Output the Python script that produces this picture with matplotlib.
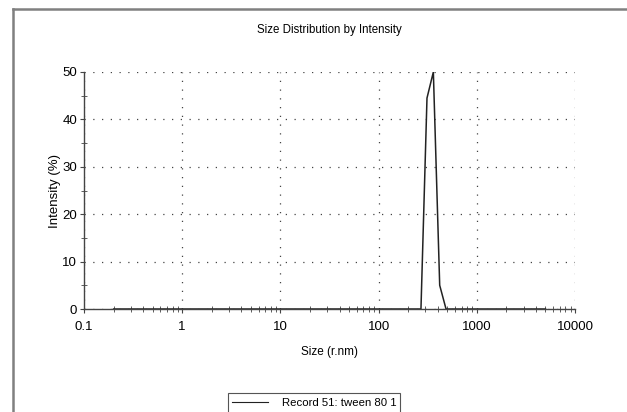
import numpy as np
import matplotlib.pyplot as plt
from matplotlib.lines import Line2D
from matplotlib.patches import Rectangle

plt.rcParams['font.family'] = ['Liberation Sans', 'DejaVu Sans']

# Size (r.nm) and intensity (%)
size = [0.2, 270, 311, 361, 419, 486, 5000]
intensity = [0, 0, 44.5, 50, 5, 0, 0]
xticks = [0.1, 1, 10, 100, 1000, 10000]
xtick_labels = ['0.1', '1', '10', '100', '1000', '10000']
yticks = [0, 10, 20, 30, 40, 50]
legend_text = 'Record 51: tween 80 1'

W, H = 627, 412
fig = plt.figure(figsize=(W / 100, H / 100), dpi=100)
ax = fig.add_axes([84 / W, 1 - 309 / H, (575 - 84) / W, (309 - 72) / H])

ax.plot(size, intensity, color='#222222', lw=1.1)
ax.set_xscale('log')
ax.set_xlim(0.1, 10000)
ax.set_ylim(0, 50)
ax.set_xticks(xticks)
ax.set_xticklabels(xtick_labels)
ax.set_yticks(yticks)
ax.set_yticks([5, 15, 25, 35, 45], minor=True)

for s in ['top', 'right']:
    ax.spines[s].set_visible(False)
for s in ['left', 'bottom']:
    ax.spines[s].set_color('#444444')
    ax.spines[s].set_linewidth(1.0)

ax.tick_params(which='major', direction='out', length=3, width=0.8,
               color='#444444', labelsize=9.5)
ax.tick_params(axis='x', which='major', pad=6)
ax.tick_params(axis='y', which='major', pad=2)
ax.tick_params(which='minor', direction='inout', length=4, width=0.6,
               color='#444444')
ax.xaxis.set_minor_formatter(plt.NullFormatter())

ax.grid(True, which='major', linestyle=(0, (1, 6)), color='#444444', lw=0.9)
ax.set_axisbelow(True)

ax.set_xlabel('Size (r.nm)', fontsize=8.5, labelpad=9)
ax.set_ylabel('Intensity (%)', fontsize=9.5, labelpad=1)
fig.text(329 / W, 1 - 30 / H, 'Size Distribution by Intensity',
         fontsize=8.3, ha='center', va='center')

# legend box at the bottom (runs off the picture)
fig.add_artist(Rectangle((228 / W, -0.05), (400 - 228) / W, 0.05 + (412 - 393) / H,
                         transform=fig.transFigure, fill=False,
                         edgecolor='#555555', lw=0.8))
fig.add_artist(Line2D([232 / W, 268 / W], [1 - 402 / H] * 2,
                      transform=fig.transFigure, color='#222222', lw=0.8))
fig.text(282 / W, 1 - 403 / H, legend_text, fontsize=8.2, va='center')

# outer gray frame
fig.add_artist(Line2D([13 / W, 1.01], [1 - 9 / H] * 2, transform=fig.transFigure,
                      color='#808080', lw=1.8))
fig.add_artist(Line2D([13 / W] * 2, [-0.01, 1 - 9 / H], transform=fig.transFigure,
                      color='#808080', lw=1.8))

fig.savefig('out.png', dpi=100)
